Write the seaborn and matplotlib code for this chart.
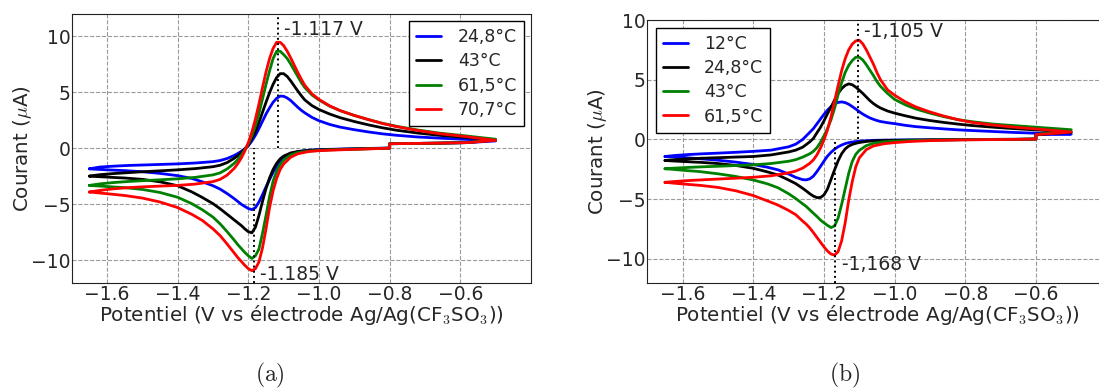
import matplotlib
matplotlib.use("Agg")
import matplotlib.pyplot as plt
import numpy as np
import pandas as pd
import seaborn as sns

# ---------------- data ----------------
# anodic (forward) sweep potentials, shared by both panels (V)
UP_X = [-1.65, -1.62, -1.58, -1.54, -1.5, -1.45, -1.4, -1.35, -1.3, -1.28, -1.26, -1.24,
        -1.23, -1.22, -1.21, -1.20, -1.19, -1.18, -1.17, -1.16, -1.15, -1.14, -1.13, -1.12,
        -1.11, -1.10, -1.09, -1.08, -1.07, -1.06, -1.05, -1.04, -1.02, -1.0, -0.97, -0.94,
        -0.9, -0.86, -0.82, -0.78, -0.72, -0.66, -0.58, -0.5]

# cathodic (return) sweep potentials, panel (a)
A_DN_X = [-0.5, -0.58, -0.66, -0.74, -0.8, -0.8, -0.86, -0.92, -0.97, -1.0, -1.03, -1.06,
          -1.08, -1.10, -1.11, -1.12, -1.13, -1.14, -1.15, -1.16, -1.17, -1.18, -1.19, -1.20,
          -1.21, -1.22, -1.23, -1.24, -1.26, -1.28, -1.30, -1.33, -1.36, -1.4, -1.45, -1.5,
          -1.55, -1.6, -1.63, -1.65]

# cathodic (return) sweep potentials, panel (b)
B_DN_X = [-0.5, -0.55, -0.6, -0.6, -0.66, -0.74, -0.82, -0.9, -0.96, -1.0, -1.03, -1.06,
          -1.08, -1.10, -1.11, -1.12, -1.13, -1.14, -1.15, -1.16, -1.17, -1.18, -1.19, -1.20,
          -1.21, -1.22, -1.23, -1.24, -1.25, -1.26, -1.28, -1.30, -1.33, -1.36, -1.4, -1.45,
          -1.5, -1.55, -1.6, -1.63, -1.65]

A_LABELS = ["24,8°C", "43°C", "61,5°C", "70,7°C"]
B_LABELS = ["12°C", "24,8°C", "43°C", "61,5°C"]

# panel (a) currents (µA), anodic sweep
A_UP_248 = [-1.84, -1.68, -1.6, -1.54, -1.5, -1.45, -1.4, -1.32, -1.2, -1.1, -0.92, -0.65,
            -0.48, -0.28, -0.05, 0.22, 0.65, 1.15, 1.75, 2.4, 3.05, 3.6, 4.1, 4.45, 4.65, 4.63,
            4.48, 4.25, 3.95, 3.65, 3.38, 3.15, 2.75, 2.45, 2.12, 1.88, 1.65, 1.45, 1.28, 1.15,
            1.0, 0.9, 0.78, 0.65]
A_UP_43 = [-2.49, -2.36, -2.26, -2.18, -2.1, -2.02, -1.93, -1.82, -1.65, -1.52, -1.28, -0.9,
           -0.68, -0.4, -0.07, 0.3, 0.85, 1.5, 2.3, 3.2, 4.1, 4.95, 5.7, 6.3, 6.65, 6.65, 6.4,
           6.0, 5.55, 5.1, 4.68, 4.3, 3.8, 3.45, 3.05, 2.72, 2.38, 2.08, 1.82, 1.6, 1.35, 1.15,
           0.95, 0.74]
A_UP_615 = [-3.32, -3.18, -3.06, -2.97, -2.9, -2.82, -2.73, -2.6, -2.38, -2.2, -1.85, -1.35,
            -1.02, -0.62, -0.15, 0.4, 1.1, 2.0, 3.1, 4.4, 5.7, 6.9, 8.0, 8.65, 8.65, 8.35, 8.0,
            7.5, 6.95, 6.4, 5.85, 5.4, 4.75, 4.3, 3.75, 3.35, 2.92, 2.55, 2.22, 1.95, 1.62,
            1.35, 1.08, 0.8]
A_UP_707 = [-3.91, -3.76, -3.62, -3.52, -3.45, -3.38, -3.32, -3.2, -2.98, -2.78, -2.4, -1.8,
            -1.38, -0.88, -0.25, 0.5, 1.45, 2.6, 3.95, 5.4, 6.8, 8.0, 8.9, 9.45, 9.45, 9.15,
            8.65, 8.05, 7.4, 6.75, 6.15, 5.6, 4.85, 4.35, 3.78, 3.35, 2.92, 2.55, 2.2, 1.92,
            1.58, 1.3, 1.02, 0.7]

# panel (a) currents (µA), cathodic sweep
A_DN_248 = [0.65, 0.5, 0.45, 0.42, 0.4, 0.02, -0.02, -0.06, -0.1, -0.13, -0.18, -0.3, -0.5,
            -0.85, -1.2, -1.6, -2.15, -2.8, -3.45, -4.15, -4.8, -5.3, -5.48, -5.38, -5.2,
            -5.0, -4.75, -4.5, -4.05, -3.65, -3.35, -3.0, -2.7, -2.45, -2.25, -2.1, -2.0,
            -1.93, -1.88, -1.84]
A_DN_43 = [0.74, 0.5, 0.45, 0.42, 0.4, 0.0, -0.04, -0.08, -0.12, -0.15, -0.2, -0.3, -0.42,
           -0.7, -0.95, -1.35, -1.9, -2.65, -3.6, -4.75, -6.0, -7.05, -7.55, -7.45, -7.2,
           -6.9, -6.65, -6.4, -5.9, -5.4, -4.95, -4.4, -3.9, -3.35, -3.0, -2.78, -2.66,
           -2.58, -2.53, -2.49]
A_DN_615 = [0.8, 0.5, 0.45, 0.42, 0.4, 0.0, -0.05, -0.1, -0.15, -0.2, -0.26, -0.4, -0.6,
            -1.05, -1.45, -2.05, -2.95, -4.3, -6.0, -7.6, -9.0, -9.6, -9.84, -9.6, -9.3,
            -8.95, -8.6, -8.2, -7.45, -6.75, -6.15, -5.5, -4.95, -4.38, -3.95, -3.68, -3.52,
            -3.42, -3.36, -3.32]
A_DN_707 = [0.7, 0.5, 0.45, 0.42, 0.4, 0.0, -0.06, -0.12, -0.18, -0.22, -0.3, -0.5, -0.8,
            -1.4, -1.9, -2.7, -3.8, -5.3, -7.2, -8.9, -10.15, -10.75, -10.93, -10.75, -10.45,
            -10.1, -9.75, -9.35, -8.55, -7.8, -7.2, -6.45, -5.9, -5.3, -4.8, -4.45, -4.22,
            -4.06, -3.97, -3.91]

# panel (b) currents (µA), anodic sweep
B_UP_12 = [-1.43, -1.34, -1.26, -1.2, -1.15, -1.08, -1.0, -0.9, -0.62, -0.4, 0.0, 0.6, 0.9,
           1.3, 1.7, 2.1, 2.45, 2.75, 2.97, 3.1, 3.14, 3.08, 2.95, 2.75, 2.55, 2.32, 2.12, 1.95,
           1.8, 1.68, 1.58, 1.5, 1.4, 1.32, 1.18, 1.07, 0.97, 0.88, 0.8, 0.74, 0.66, 0.58,
           0.5, 0.45]
B_UP_248 = [-1.76, -1.69, -1.62, -1.57, -1.53, -1.48, -1.43, -1.3, -1.05, -0.9, -0.65, -0.2,
            0.08, 0.55, 1.0, 1.55, 2.15, 2.7, 3.3, 3.85, 4.25, 4.52, 4.65, 4.58, 4.38, 4.12,
            3.85, 3.55, 3.25, 3.0, 2.8, 2.63, 2.38, 2.2, 1.98, 1.78, 1.58, 1.42, 1.28, 1.16,
            1.02, 0.9, 0.76, 0.62]
B_UP_43 = [-2.46, -2.4, -2.34, -2.29, -2.25, -2.19, -2.13, -2.02, -1.83, -1.7, -1.48, -1.2,
           -1.0, -0.7, -0.25, 0.3, 0.9, 1.65, 2.6, 3.75, 4.75, 5.6, 6.2, 6.6, 6.88, 6.88, 6.65,
           6.25, 5.8, 5.35, 4.85, 4.45, 3.85, 3.35, 2.9, 2.55, 2.2, 1.9, 1.65, 1.48, 1.28,
           1.15, 0.98, 0.81]
B_UP_615 = [-3.59, -3.52, -3.44, -3.38, -3.32, -3.25, -3.17, -3.05, -2.8, -2.65, -2.4, -2.0,
            -1.72, -1.3, -0.73, -0.05, 0.8, 1.9, 3.2, 4.5, 5.75, 6.75, 7.5, 7.98, 8.25, 8.3,
            8.0, 7.5, 6.9, 6.3, 5.6, 5.0, 4.15, 3.7, 3.15, 2.72, 2.3, 1.95, 1.65, 1.42, 1.2,
            1.02, 0.83, 0.62]

# panel (b) currents (µA), cathodic sweep
B_DN_12 = [0.45, 0.42, 0.39, 0.03, 0.01, 0.0, -0.02, -0.03, -0.04, -0.05, -0.06, -0.08,
           -0.11, -0.15, -0.18, -0.22, -0.27, -0.35, -0.47, -0.62, -0.82, -1.08, -1.4, -1.82,
           -2.27, -2.7, -3.08, -3.3, -3.39, -3.37, -3.18, -2.9, -2.55, -2.33, -2.1, -1.9,
           -1.74, -1.62, -1.51, -1.46, -1.43]
B_DN_248 = [0.62, 0.5, 0.4, 0.03, 0.01, 0.0, -0.02, -0.04, -0.06, -0.08, -0.09, -0.12, -0.17,
            -0.26, -0.33, -0.42, -0.56, -0.8, -1.2, -1.8, -2.55, -3.35, -4.15, -4.65, -4.87,
            -4.87, -4.75, -4.55, -4.32, -4.1, -3.7, -3.4, -2.98, -2.72, -2.42, -2.18, -2.02,
            -1.92, -1.85, -1.8, -1.76]
B_DN_43 = [0.81, 0.6, 0.4, 0.03, 0.0, -0.01, -0.03, -0.06, -0.1, -0.15, -0.2, -0.33, -0.52,
           -0.92, -1.25, -1.85, -2.85, -4.15, -5.45, -6.6, -7.25, -7.38, -7.2, -6.98, -6.75,
           -6.45, -6.18, -5.9, -5.62, -5.4, -4.95, -4.55, -4.05, -3.72, -3.4, -3.1, -2.88,
           -2.7, -2.58, -2.5, -2.46]
B_DN_615 = [0.62, 0.5, 0.4, 0.03, 0.0, -0.02, -0.05, -0.1, -0.18, -0.27, -0.36, -0.55, -0.85,
            -1.55, -2.3, -3.55, -5.1, -7.0, -8.5, -9.4, -9.69, -9.6, -9.35, -9.0, -8.6, -8.2,
            -7.8, -7.42, -7.1, -6.85, -6.3, -5.95, -5.5, -5.15, -4.7, -4.3, -4.02, -3.85,
            -3.73, -3.65, -3.59]

# peak potentials marked with dotted lines (V) and their labels
A_PEAKS = [-1.117, -1.185]
A_PEAK_TEXT = ["-1.117 V", "-1.185 V"]
B_PEAKS = [-1.105, -1.168]
B_PEAK_TEXT = ["-1,105 V", "-1,168 V"]

COLORS = ["#0000ff", "#000000", "#008000", "#ff0000"]

# ---------------- style ----------------
sns.set_style("whitegrid", rc={
    "grid.linestyle": "--",
    "grid.color": "#9a9a9a",
    "grid.linewidth": 0.6,
    "axes.edgecolor": "#222222",
    "axes.linewidth": 1.0,
})
plt.rcParams["font.family"] = ["DejaVu Sans"]
plt.rcParams["mathtext.fontset"] = "cm"
plt.rcParams["axes.unicode_minus"] = True


def build(up_x, dn_x, ups, dns, labels):
    rows = []
    for lab, uy, dy in zip(labels, ups, dns):
        xs = list(up_x) + list(dn_x)
        ys = list(uy) + list(dy)
        for k, (x, y) in enumerate(zip(xs, ys)):
            rows.append({"E": x, "I": y, "T": lab, "k": k})
    return pd.DataFrame(rows)


df_a = build(UP_X, A_DN_X, [A_UP_248, A_UP_43, A_UP_615, A_UP_707],
             [A_DN_248, A_DN_43, A_DN_615, A_DN_707], A_LABELS)
df_b = build(UP_X, B_DN_X, [B_UP_12, B_UP_248, B_UP_43, B_UP_615],
             [B_DN_12, B_DN_248, B_DN_43, B_DN_615], B_LABELS)

W, H = 1099, 389
fig = plt.figure(figsize=(W / 100, H / 100), dpi=100)
ax_a = fig.add_axes([71.7 / W, (H - 282.7) / H, 459.3 / W, 269.0 / H])
ax_b = fig.add_axes([647.3 / W, (H - 282.7) / H, 459.3 / W, 262.7 / H])

XLABEL = r"Potentiel (V vs électrode Ag/Ag(CF$_3$SO$_3$))"
YLABEL = r"Courant ($\mu$A)"


def panel(ax, df, labels, ylim, peaks, texts, text_pos, loc, legend_anchor):
    sns.lineplot(data=df, x="E", y="I", hue="T", hue_order=labels, palette=COLORS,
                 sort=False, estimator=None, units="T", linewidth=2.0, ax=ax)
    ax.set_xlim(-1.7, -0.4)
    ax.set_ylim(*ylim)
    ax.set_xticks([-1.6, -1.4, -1.2, -1.0, -0.8, -0.6])
    ax.set_yticks([-10, -5, 0, 5, 10])
    ax.tick_params(axis="both", labelsize=13.5, length=0, pad=2)
    ax.tick_params(axis="y", pad=1)
    ax.set_xlabel(XLABEL, fontsize=14.3, labelpad=-1)
    ax.set_ylabel(YLABEL, fontsize=14.3, labelpad=-2)
    # dotted peak markers
    ax.vlines(peaks[0], 0, ylim[1], colors="black", linestyles=":", linewidth=1.4, zorder=3)
    ax.vlines(peaks[1], ylim[0], 0, colors="black", linestyles=":", linewidth=1.4, zorder=3)
    for t, (tx, ty) in zip(texts, text_pos):
        ax.text(tx, ty, t, fontsize=13.5, va="center", ha="left")
    handles, labs = ax.get_legend_handles_labels()
    leg = ax.legend(handles, labs, loc=loc, bbox_to_anchor=legend_anchor, fontsize=12.5,
                    frameon=True, fancybox=False, framealpha=1, edgecolor="black",
                    handlelength=1.45, handletextpad=0.95, labelspacing=0.36,
                    borderpad=0.4, borderaxespad=0.0)
    leg.get_frame().set_linewidth(1.0)
    for sp in ax.spines.values():
        sp.set_visible(True)


panel(ax_a, df_a, A_LABELS, (-12, 12), A_PEAKS, A_PEAK_TEXT,
      [(-1.098, 10.6), (-1.166, -11.3)], "upper right", (0.985, 0.972))
panel(ax_b, df_b, B_LABELS, (-12, 10), B_PEAKS, B_PEAK_TEXT,
      [(-1.086, 9.05), (-1.148, -10.5)], "upper left", (0.018, 0.97))

fig.text(270 / W, 1 - 375 / H, r"$\mathrm{(a)}$", ha="center", va="center", fontsize=17)
fig.text(845 / W, 1 - 375 / H, r"$\mathrm{(b)}$", ha="center", va="center", fontsize=17)

fig.savefig("out.png", dpi=100, facecolor="white")
